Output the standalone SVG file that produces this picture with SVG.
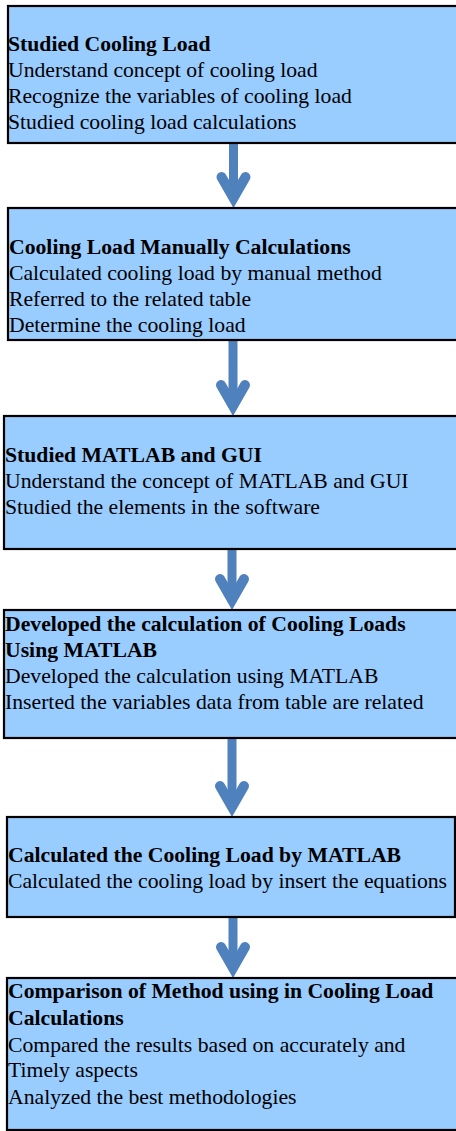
<svg xmlns="http://www.w3.org/2000/svg" xmlns:xlink="http://www.w3.org/1999/xlink" width="456" height="1131" viewBox="0 0 456 1131">
<style>
.box{fill:#99ccff;stroke:#000;stroke-width:2.2}
.t{font-family:"Liberation Serif","Times New Roman",serif;font-size:21.7px;fill:#000}
.b{font-weight:bold}
.shaft{stroke:#4f81bd;stroke-width:9;fill:none}
.head{stroke:#4f81bd;stroke-width:10;fill:none;stroke-linecap:round;stroke-linejoin:miter;stroke-miterlimit:10}
</style>
<defs>
<path id="ah" class="head" d="M-12,-31 L0,-10 L12,-31"/>
</defs>
<rect width="456" height="1131" fill="#fff"/>
<g id="connectors">
<line class="shaft" x1="233.5" y1="143" x2="233.5" y2="200"/>
<use xlink:href="#ah" x="233.5" y="208"/>
<line class="shaft" x1="233" y1="340" x2="233" y2="408"/>
<use xlink:href="#ah" x="233" y="416"/>
<line class="shaft" x1="232" y1="549" x2="232" y2="602"/>
<use xlink:href="#ah" x="232" y="610"/>
<line class="shaft" x1="232" y1="738" x2="232" y2="809"/>
<use xlink:href="#ah" x="232" y="817"/>
<line class="shaft" x1="233" y1="917" x2="233" y2="970"/>
<use xlink:href="#ah" x="233" y="978"/>
</g>
<g id="n1">
<rect class="box" x="8" y="6" width="460" height="137"/>
<text class="t b" x="8" y="51">Studied Cooling Load</text>
<text class="t" x="8" y="77">Understand concept of cooling load</text>
<text class="t" x="8" y="103">Recognize the variables of cooling load</text>
<text class="t" x="8" y="129">Studied cooling load calculations</text>
</g>
<g id="n2">
<rect class="box" x="8" y="208" width="460" height="132"/>
<text class="t b" x="9" y="254">Cooling Load Manually Calculations</text>
<text class="t" x="9" y="280">Calculated cooling load by manual method</text>
<text class="t" x="9" y="306">Referred to the related table</text>
<text class="t" x="9" y="332">Determine the cooling load</text>
</g>
<g id="n3">
<rect class="box" x="4" y="416" width="464" height="133"/>
<text class="t b" x="5" y="462">Studied MATLAB and GUI</text>
<text class="t" x="5" y="488">Understand the concept of MATLAB and GUI</text>
<text class="t" x="5" y="514">Studied the elements in the software</text>
</g>
<g id="n4">
<rect class="box" x="4" y="610" width="464" height="128"/>
<text class="t b" x="5" y="631">Developed the calculation of Cooling Loads</text>
<text class="t b" x="5" y="657">Using MATLAB</text>
<text class="t" x="5" y="683">Developed the calculation using MATLAB</text>
<text class="t" x="5" y="709">Inserted the variables data from table are related</text>
</g>
<g id="n5">
<rect class="box" x="7" y="817" width="448" height="100"/>
<text class="t b" x="8" y="862">Calculated the Cooling Load by MATLAB</text>
<text class="t" x="8" y="888">Calculated the cooling load by insert the equations</text>
</g>
<g id="n6">
<rect class="box" x="7" y="978" width="461" height="152"/>
<text class="t b" x="8" y="998">Comparison of Method using in Cooling Load</text>
<text class="t b" x="8" y="1025">Calculations</text>
<text class="t" x="8" y="1052">Compared the results based on accurately and</text>
<text class="t" x="8" y="1077">Timely aspects</text>
<text class="t" x="8" y="1104">Analyzed the best methodologies</text>
</g>
</svg>
